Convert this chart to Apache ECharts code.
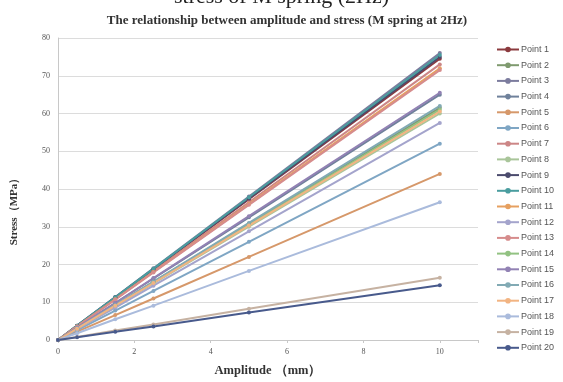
<!DOCTYPE html>
<html>
<head>
<meta charset="utf-8">
<script src="https://cdn.jsdelivr.net/npm/echarts@6/dist/echarts.min.js"></script>
<style>
html, body { margin: 0; padding: 0; background: #fff; }
#chart { width: 563px; height: 382px; }
</style>
</head>
<body>
<div id="chart"></div>
<script>
"use strict";

// amplitude (mm) at which stress was measured
var amplitudes = [0, 0.5, 1.5, 2.5, 5, 10];

var pointNames = ['Point 1', 'Point 2', 'Point 3', 'Point 4', 'Point 5', 'Point 6', 'Point 7',
	'Point 8', 'Point 9', 'Point 10', 'Point 11', 'Point 12', 'Point 13', 'Point 14',
	'Point 15', 'Point 16', 'Point 17', 'Point 18', 'Point 19', 'Point 20'];

// stress (MPa) for each point, one row per point
var stress = [
	[0, 3.7, 11.2, 18.6, 37.3, 74.5],
	[0, 3.1, 9.2, 15.4, 30.8, 61.5],
	[0, 3.8, 11.4, 19.0, 38.0, 76.0],
	[0, 3.3, 9.8, 16.3, 32.5, 65.0],
	[0, 2.2, 6.6, 11.0, 22.0, 44.0],
	[0, 2.6, 7.8, 13.0, 26.0, 52.0],
	[0, 3.7, 11.0, 18.3, 36.5, 73.0],
	[0, 3.0, 9.0, 15.0, 30.0, 60.0],
	[0, 3.8, 11.3, 18.8, 37.5, 75.0],
	[0, 3.8, 11.3, 18.9, 37.8, 75.5],
	[0, 3.6, 10.8, 18.0, 36.0, 72.0],
	[0, 2.9, 8.6, 14.4, 28.8, 57.5],
	[0, 3.6, 10.7, 17.9, 35.8, 71.5],
	[0, 3.1, 9.2, 15.3, 30.5, 61.0],
	[0, 3.3, 9.8, 16.4, 32.8, 65.5],
	[0, 3.1, 9.3, 15.5, 31.0, 62.0],
	[0, 3.0, 9.1, 15.1, 30.3, 60.5],
	[0, 1.8, 5.5, 9.1, 18.3, 36.5],
	[0, 0.8, 2.5, 4.1, 8.3, 16.5],
	[0, 0.7, 2.2, 3.6, 7.3, 14.5]
];

var xTicks = [0, 2, 4, 6, 8, 10];
var yTicks = [0, 10, 20, 30, 40, 50, 60, 70, 80];

var colors = ['#8b3a3e', '#7f9a6f', '#7c7c9e', '#6f819b', '#d6986a', '#7fa6c4', '#cc8686',
	'#a9c59a', '#4b4b6d', '#4a9d9f', '#e6a060', '#a4a4cc', '#d68c8c', '#92c282',
	'#9282b4', '#82aab4', '#f2b482', '#aabbdc', '#c6b2a2', '#485a8c'];

var chart = echarts.init(document.getElementById('chart'));

var series = pointNames.map(function (name, i) {
	return {
		name: name,
		type: 'line',
		data: amplitudes.map(function (a, j) { return [a, stress[i][j]]; }),
		symbol: 'circle',
		symbolSize: 4,
		lineStyle: { width: 2 },
		itemStyle: { color: colors[i] },
		animation: false
	};
});

var option = {
	backgroundColor: '#fff',
	color: colors,
	title: {
		text: 'The relationship between amplitude and stress (M spring at 2Hz)',
		left: 282,
		textAlign: 'center',
		top: 9,
		textStyle: { fontFamily: 'Liberation Serif', fontSize: 13, fontWeight: 'bold', color: '#333' }
	},
	graphic: [{
		type: 'text',
		left: 'center',
		top: -14,
		style: { text: 'stress of M spring (2Hz)', font: '22px "Liberation Serif"', fill: '#222' }
	}],
	legend: {
		orient: 'vertical',
		left: 491,
		top: 40,
		itemWidth: 22,
		itemHeight: 7,
		itemGap: 6.7,
		data: pointNames,
		textStyle: { fontFamily: 'Liberation Sans', fontSize: 9, color: '#555', padding: [0, 0, 0, -3] }
	},
	grid: { left: 58, right: 85, top: 38, bottom: 38 },
	xAxis: {
		type: 'value',
		min: 0,
		max: 11,
		interval: 2,
		name: 'Amplitude （mm）',
		nameLocation: 'middle',
		nameGap: 24,
		nameTextStyle: { fontFamily: 'Liberation Serif', fontSize: 12.5, fontWeight: 'bold', color: '#333' },
		axisLine: { lineStyle: { color: '#c8c8c8' } },
		axisTick: { show: true, length: 3, lineStyle: { color: '#c8c8c8' } },
		axisLabel: {
			fontFamily: 'Liberation Serif', fontSize: 8, color: '#555',
			customValues: xTicks
		},
		splitLine: { show: false }
	},
	yAxis: {
		type: 'value',
		min: 0,
		max: 80,
		interval: 10,
		name: 'Stress（MPa）',
		nameLocation: 'middle',
		nameGap: 38,
		nameTextStyle: { fontFamily: 'Liberation Serif', fontSize: 11, fontWeight: 'bold', color: '#333', padding: [0, 40, 0, 0] },
		axisLine: { show: true, lineStyle: { color: '#c8c8c8' } },
		axisTick: { show: false },
		axisLabel: { fontFamily: 'Liberation Serif', fontSize: 8, color: '#555', customValues: yTicks },
		splitLine: { lineStyle: { color: '#dcdcdc', width: 1 } }
	},
	series: series
};

chart.setOption(option);
</script>
</body>
</html>
